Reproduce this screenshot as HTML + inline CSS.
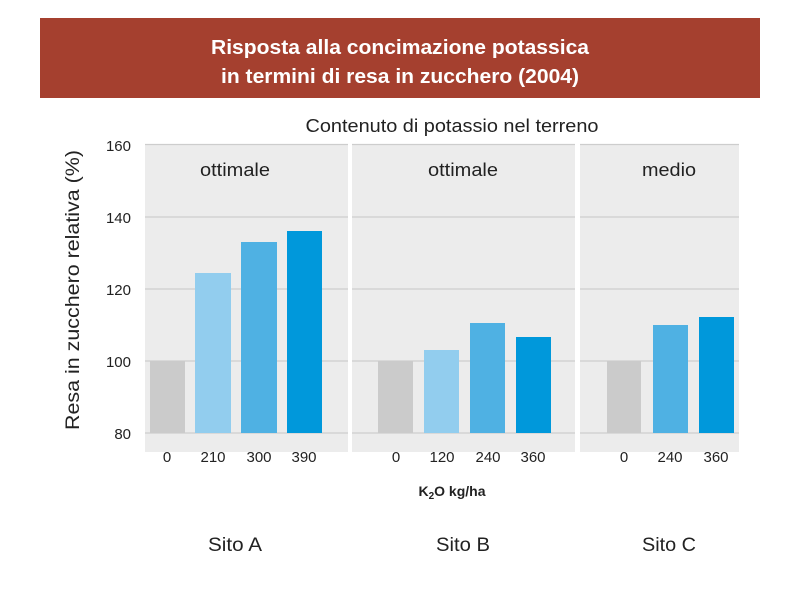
<!DOCTYPE html>
<html><head><meta charset="utf-8"><style>body{margin:0;background:#fff}svg{display:block}</style></head>
<body>
<svg width="800" height="600" xmlns="http://www.w3.org/2000/svg" font-family="Liberation Sans, Arial, sans-serif">
<rect x="0" y="0" width="800" height="600" fill="#fff"/>
<rect x="40" y="18" width="720" height="80" fill="#a5402f"/>
<text x="400" y="54" text-anchor="middle" fill="#fff" font-size="20" font-weight="bold" textLength="378" lengthAdjust="spacingAndGlyphs">Risposta alla concimazione potassica</text>
<text x="400" y="83" text-anchor="middle" fill="#fff" font-size="20" font-weight="bold" textLength="358" lengthAdjust="spacingAndGlyphs">in termini di resa in zucchero (2004)</text>
<text x="452" y="132" text-anchor="middle" fill="#222" font-size="18" textLength="293" lengthAdjust="spacingAndGlyphs">Contenuto di potassio nel terreno</text>
<g fill="#ececec">
<rect x="145" y="144" width="203" height="308"/>
<rect x="352" y="144" width="223" height="308"/>
<rect x="580" y="144" width="159" height="308"/>
</g>
<g stroke="#cdcdcd" stroke-width="1.3">
<line x1="145" x2="348" y1="144.5" y2="144.5"/><line x1="352" x2="575" y1="144.5" y2="144.5"/><line x1="580" x2="739" y1="144.5" y2="144.5"/>
<line x1="145" x2="348" y1="217" y2="217"/><line x1="352" x2="575" y1="217" y2="217"/><line x1="580" x2="739" y1="217" y2="217"/>
<line x1="145" x2="348" y1="289" y2="289"/><line x1="352" x2="575" y1="289" y2="289"/><line x1="580" x2="739" y1="289" y2="289"/>
<line x1="145" x2="348" y1="361" y2="361"/><line x1="352" x2="575" y1="361" y2="361"/><line x1="580" x2="739" y1="361" y2="361"/>
<line x1="145" x2="348" y1="433" y2="433"/><line x1="352" x2="575" y1="433" y2="433"/><line x1="580" x2="739" y1="433" y2="433"/>
</g>
<g>
<rect x="150" y="361" width="35" height="72" fill="#cbcbcb"/>
<rect x="195" y="273" width="36" height="160" fill="#92cdee"/>
<rect x="241" y="242" width="36" height="191" fill="#4fb1e3"/>
<rect x="287" y="231" width="35" height="202" fill="#0098db"/>
<rect x="378" y="361" width="35" height="72" fill="#cbcbcb"/>
<rect x="424" y="350" width="35" height="83" fill="#92cdee"/>
<rect x="470" y="323" width="35" height="110" fill="#4fb1e3"/>
<rect x="516" y="337" width="35" height="96" fill="#0098db"/>
<rect x="607" y="361" width="34" height="72" fill="#cbcbcb"/>
<rect x="653" y="325" width="35" height="108" fill="#4fb1e3"/>
<rect x="699" y="317" width="35" height="116" fill="#0098db"/>
</g>
<g font-size="18" fill="#222" text-anchor="middle">
<text x="235" y="176" textLength="70" lengthAdjust="spacingAndGlyphs">ottimale</text>
<text x="463" y="176" textLength="70" lengthAdjust="spacingAndGlyphs">ottimale</text>
<text x="669" y="176" textLength="54" lengthAdjust="spacingAndGlyphs">medio</text>
</g>
<g font-size="15" fill="#222" text-anchor="end">
<text x="131" y="151">160</text><text x="131" y="223">140</text><text x="131" y="295">120</text><text x="131" y="367">100</text><text x="131" y="439">80</text>
</g>
<text transform="translate(79,290) rotate(-90)" text-anchor="middle" font-size="19" fill="#222" textLength="280" lengthAdjust="spacingAndGlyphs">Resa in zucchero relativa (%)</text>
<g font-size="15" fill="#222" text-anchor="middle">
<text x="167" y="462">0</text><text x="213" y="462">210</text><text x="259" y="462">300</text><text x="304" y="462">390</text>
<text x="396" y="462">0</text><text x="442" y="462">120</text><text x="488" y="462">240</text><text x="533" y="462">360</text>
<text x="624" y="462">0</text><text x="670" y="462">240</text><text x="716" y="462">360</text>
</g>
<text x="452" y="496" text-anchor="middle" font-size="14" font-weight="bold" fill="#222">K<tspan font-size="10" dy="3">2</tspan><tspan dy="-3">O kg/ha</tspan></text>
<g font-size="19" fill="#222" text-anchor="middle">
<text x="235" y="551" textLength="54" lengthAdjust="spacingAndGlyphs">Sito A</text><text x="463" y="551" textLength="54" lengthAdjust="spacingAndGlyphs">Sito B</text><text x="669" y="551" textLength="54" lengthAdjust="spacingAndGlyphs">Sito C</text>
</g>
</svg>
</body></html>
